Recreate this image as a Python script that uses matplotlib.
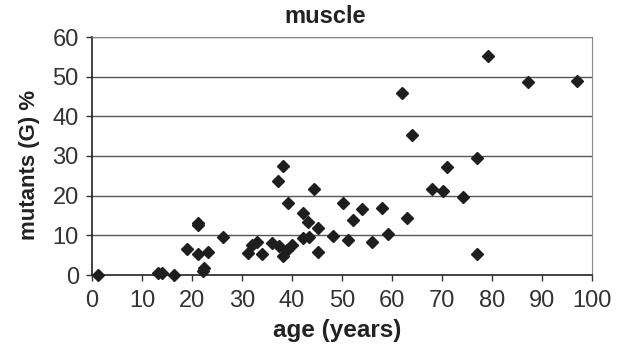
import numpy as np
import matplotlib
matplotlib.use("Agg")
import matplotlib.pyplot as plt

plt.rcParams['font.family'] = ['Liberation Sans', 'DejaVu Sans']

# ages (years) and % mutants (G)
age = [1.1, 13.1, 13.9, 16.3, 18.9, 21.1, 21.1, 21.1, 22.2, 22.4, 23.2, 26.1,
       31.1, 31.9, 32.9, 33.9, 35.9, 37.3, 37.1, 38.1, 39.1, 38.1, 38.9, 39.9,
       42.1, 43.1, 42.1, 43.3, 44.3, 45.1, 45.1, 48.1, 50.1, 51.1, 52.1, 53.9,
       55.9, 58.0, 59.1, 61.9, 63.0, 64.0, 67.9, 70.1, 70.9, 74.1, 76.9, 76.9,
       79.1, 87.1, 96.9]
mutants = [0.0, 0.5, 0.5, 0.1, 6.5, 12.5, 13.0, 5.2, 1.0, 1.8, 5.9, 9.5,
           5.5, 7.6, 8.4, 5.2, 8.0, 7.2, 23.6, 27.6, 18.1, 4.8, 6.3, 7.6,
           15.6, 13.3, 9.3, 9.5, 21.7, 11.9, 5.9, 9.8, 18.1, 8.8, 13.8, 16.6,
           8.3, 16.8, 10.4, 46.0, 14.4, 35.2, 21.7, 21.2, 27.3, 19.6, 29.5, 5.2,
           55.1, 48.7, 49.0]

xticks = np.arange(0, 101, 10)
yticks = np.arange(0, 61, 10)

fig = plt.figure(figsize=(6.29, 3.45), dpi=100)
ax = fig.add_axes([92 / 629, 1 - 275 / 345, 500 / 629, 238 / 345])

for y in yticks[1:]:
    ax.axhline(y, color='#555555', lw=1.0, zorder=1)

ax.plot(age, mutants, 'D', color='#1e1e1e', ms=6.3, mec='#1e1e1e', zorder=3,
        clip_on=False)

ax.set_xlim(0, 100)
ax.set_ylim(0, 60)
ax.set_xticks(xticks)
ax.set_yticks(yticks)
ax.tick_params(axis='both', direction='out', length=4.5, width=1.0,
               color='#333333', labelsize=17, labelcolor='#333333')
ax.tick_params(axis='x', pad=6)
ax.tick_params(axis='y', pad=5)

ax.spines['left'].set_color('#222222')
ax.spines['bottom'].set_color('#222222')
ax.spines['left'].set_linewidth(1.2)
ax.spines['bottom'].set_linewidth(1.2)
ax.spines['right'].set_color('#888888')
ax.spines['top'].set_color('#888888')

# title sits over the whole chart, a little left of the plot centre
ax.set_title('muscle', fontsize=17, fontweight='bold', color='#222222',
             x=(325 - 92) / 500, pad=10)
ax.set_xlabel('age (years)', fontsize=17.5, fontweight='bold', color='#222222')
ax.xaxis.set_label_coords((337 - 92) / 500, -(319 - 275) / 238)
ax.set_ylabel('mutants (G) %', fontsize=16, fontweight='bold', color='#222222')
ax.yaxis.set_label_coords(-(92 - 40) / 500, (275 - 165) / 238)

fig.savefig('out.png', dpi=100)
